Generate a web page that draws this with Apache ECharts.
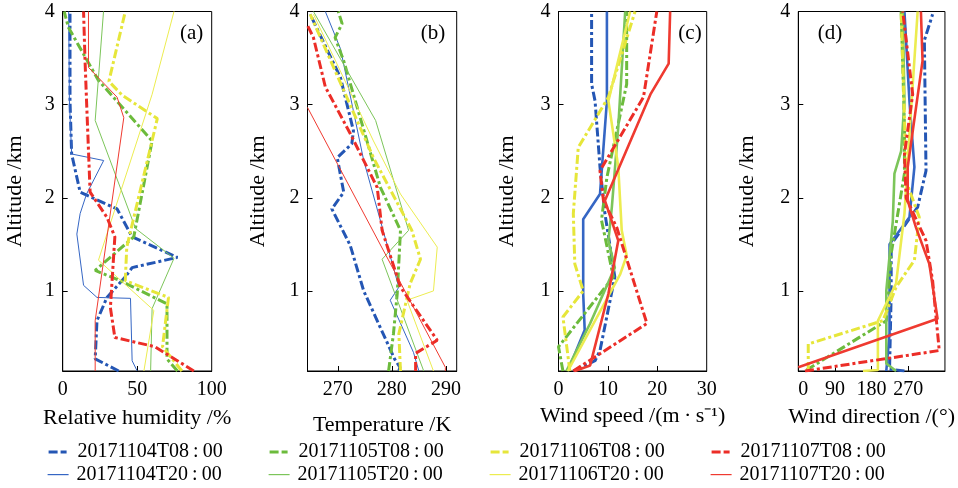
<!DOCTYPE html>
<html>
<head>
<meta charset="utf-8">
<script src="https://cdn.jsdelivr.net/npm/echarts@6/dist/echarts.min.js"></script>
<style>html,body{margin:0;padding:0;background:#fff}#c{width:958px;height:488px}</style>
</head>
<body>
<div id="c"></div>
<script>
// ---- DATA: [value, altitude km] ----
const dates = ['20171104', '20171105', '20171106', '20171107'];
const times = ['T08:00', 'T20:00'];
const altTicks = [1, 2, 3];
const altLabels = [1, 2, 3, 4];
const rhLabels = [0, 50, 100];
const tLabels = [270, 280, 290];
const wsLabels = [0, 10, 20, 30];
const wdLabels = [0, 90, 180, 270];

// (a) Relative humidity /%
const rh_1104_08 = [[37.6,0.14],[21.8,0.27],[23,0.68],[29.7,0.93],[42,1.15],[46.6,1.25],[77,1.36],[46.6,1.58],[36.5,1.88],[11.7,2.06],[6,2.47],[4.9,3.04],[4.9,4.0]];
const rh_1104_20 = [[50,0.14],[46.6,0.25],[45.5,0.92],[23,0.93],[14,1.06],[9.5,1.61],[11.7,1.83],[16,2.04],[27.5,2.40],[6,2.47],[4.5,3.04],[4,4.0]];
const rh_1105_08 = [[77,0.14],[70,0.27],[70,0.86],[38.7,1.11],[21.8,1.22],[47.7,1.58],[60,2.61],[24,3.26],[3.8,3.83],[1,4.0]];
const rh_1105_20 = [[59,0.14],[60,0.81],[74.7,1.35],[48.9,1.67],[21.8,2.83],[27.4,4.0]];
const rh_1106_08 = [[80,0.14],[67,0.40],[71,0.93],[42,1.11],[43,1.47],[63.5,2.85],[40,3.1],[31,3.25],[42,4.0]];
const rh_1106_20 = [[54.5,0.14],[61.2,0.79],[24,1.33],[60,3.11],[74.7,4.0]];
const rh_1107_08 = [[88,0.14],[62,0.40],[35,0.50],[32,0.82],[35,1.58],[29.7,1.79],[18.4,2.06],[16,3.04],[15,3.47],[14,4.0]];
const rh_1107_20 = [[21.8,0.14],[21.8,0.68],[41,2.86],[36.5,3.08],[17.3,3.40],[17.3,4.0]];

// (b) Temperature /K
const t_1104_08 = [[281.3,0.14],[281.5,0.18],[280.5,0.27],[274.8,1.0],[272.3,1.49],[268.9,1.88],[271.1,2.06],[269.9,2.43],[272.6,2.58],[272.9,2.72],[270.5,3.29],[264.9,3.97]];
const t_1104_20 = [[285,0.14],[284,0.34],[279.7,0.90],[281.3,1.04],[274.8,2.40],[270.5,3.60],[267.7,4.0]];
const t_1105_08 = [[279.4,0.14],[280.3,0.54],[281,0.97],[281.6,1.65],[277.9,2.11],[271.1,3.47],[269.5,3.72],[270.8,3.87],[270.1,4.0]];
const t_1105_20 = [[285.9,0.14],[278.2,1.34],[283.1,1.65],[277,2.83],[265.5,4.0]];
const t_1106_08 = [[281.6,0.14],[281.3,0.54],[283.4,1.08],[285.3,1.34],[283.7,1.65],[276.6,2.43],[264.9,3.97]];
const t_1106_20 = [[287.7,0.14],[282.8,0.90],[287.7,1.0],[288.4,1.47],[281.6,2.04],[276.6,2.61],[265.5,3.97]];
const t_1107_08 = [[284.4,0.14],[284.4,0.33],[288.4,0.47],[281.6,1.04],[278.2,1.65],[277.3,2.11],[272.3,2.69],[267.7,3.19],[265.5,3.72],[264.4,3.85]];
const t_1107_20 = [[289.9,0.14],[289.9,0.18],[264.4,2.97]];

// (c) Wind speed /(m s-1)
const ws_1104_08 = [[3.0,0.14],[7.4,0.25],[8.4,0.36],[11.4,1.15],[9.4,1.83],[8.4,2.33],[7.4,3.04],[6.7,3.22],[6.7,4.0]];
const ws_1104_20 = [[1.9,0.14],[5.3,0.58],[5.0,0.97],[5.0,1.77],[8.4,2.04],[9.8,3.04],[9.8,4.0]];
const ws_1105_08 = [[0.9,0.14],[0,0.40],[11.1,1.15],[8.7,1.76],[9.8,2.22],[13.8,3.22],[13.8,4.0]];
const ws_1105_20 = [[1.6,0.14],[6.4,0.65],[11.4,1.25],[10.1,1.54],[10.8,1.90],[12.1,2.76],[13.5,4.0]];
const ws_1106_08 = [[2.3,0.14],[0.9,0.72],[5.0,1.0],[3.3,1.29],[3.0,1.83],[4.0,2.54],[10.1,3.08],[15.5,4.0]];
const ws_1106_20 = [[1.9,0.14],[12.5,1.18],[13.8,1.38],[12.8,1.65],[12.1,2.33],[10.1,3.04],[14.5,4.0]];
const ws_1107_08 = [[3.0,0.14],[17.9,0.65],[11.8,1.68],[9.1,1.97],[8.4,2.29],[17.2,3.08],[19.9,4.0]];
const ws_1107_20 = [[3.3,0.14],[6.4,0.2],[10.1,0.97],[12.1,1.54],[9.4,1.97],[18.6,3.11],[22.3,3.44],[22.6,4.0]];

// (d) Wind direction /(deg)
const wd_1104_08 = [[260.6,0.14],[224,0.16],[228,0.97],[228,1.5],[293,1.90],[313.5,2.29],[309.5,3.69],[329.7,3.97]];
const wd_1104_20 = [[216,0.14],[224,0.54],[224,1.5],[272.8,1.79],[285,2.33],[272.8,3.04],[260.6,4.0]];
const wd_1105_08 = [[20.4,0.15],[216,0.68],[228,1.40],[260.6,2.26],[260.6,2.77],[252.5,4.0]];
const wd_1105_20 = [[240,0.14],[216,0.22],[216,1.0],[232,1.75],[236,2.26],[252.5,2.5],[260.6,3.04],[256.4,4.0]];
const wd_1106_08 = [[24.4,0.14],[24.4,0.43],[207.6,0.68],[240,1.04],[285,1.33],[297,1.79],[264.7,2.18],[260.6,2.86],[252.5,4.0]];
const wd_1106_20 = [[158.7,0.14],[195.4,0.15],[195.4,0.68],[240,1.08],[260.6,1.83],[272.8,2.69],[293,4.0]];
const wd_1107_08 = [[16.4,0.14],[346,0.36],[329.7,1.11],[313.5,1.54],[264.7,2.0],[260.6,2.47],[280.8,3.11],[256.4,4.0]];
const wd_1107_20 = [[0,0.18],[341.9,0.70],[321.6,1.29],[289,1.68],[268.6,1.97],[268.6,2.33],[305,3.47],[301,4.0]];

const panelData = [
  [rh_1104_08, rh_1104_20, rh_1105_08, rh_1105_20, rh_1106_08, rh_1106_20, rh_1107_08, rh_1107_20],
  [t_1104_08, t_1104_20, t_1105_08, t_1105_20, t_1106_08, t_1106_20, t_1107_08, t_1107_20],
  [ws_1104_08, ws_1104_20, ws_1105_08, ws_1105_20, ws_1106_08, ws_1106_20, ws_1107_08, ws_1107_20],
  [wd_1104_08, wd_1104_20, wd_1105_08, wd_1105_20, wd_1106_08, wd_1106_20, wd_1107_08, wd_1107_20]
];

// ---- STYLE / LAYOUT ----
const FONT = 'Liberation Serif';
const colors08 = ['#2456b4', '#6cbb3c', '#e6e63a', '#ec2d27'];
const colors20 = ['#3566c4', '#7cc55a', '#ecec50', '#ef3a30'];
const dashDot = [9, 3, 3, 3];

const grids = [
  {left: 62.7, top: 11.5, width: 149, height: 359.5},
  {left: 307.5, top: 11.5, width: 149.2, height: 359.5},
  {left: 558.5, top: 11.5, width: 148.2, height: 359.5},
  {left: 798.3, top: 11.5, width: 147.4, height: 359.5}
];
const xCfg = [
  {min: 0, max: 100, labels: rhLabels, ticks: [50], name: 'Relative humidity /%', gap: 36},
  {min: 264.4, max: 292, labels: tLabels, ticks: [270, 280, 290], name: 'Temperature /K', gap: 43},
  {min: 0, max: 30, labels: wsLabels, ticks: [10, 20], name: 'Wind speed /(m\u2009\u00b7\u2009s\u207b\u00b9)', gap: 29},
  {min: 0, max: 360, labels: wdLabels, ticks: [90, 180, 270], name: 'Wind direction /(\u00b0)', gap: 35}
];
const yGaps = [36, 38, 40, 40];
const thinW = [1, 1, 2.6, 2.6];
const panelTags = [
  {t: '(a)', x: 191.7, y: 33}, {t: '(b)', x: 433, y: 33},
  {t: '(c)', x: 690, y: 33}, {t: '(d)', x: 830, y: 33}
];

const nameStyle = {fontFamily: FONT, fontSize: 22, color: '#000'};

const legends = [];
dates.forEach((d, i) => {
  times.forEach((t, ti) => {
    const is08 = ti === 0;
    legends.push({
      left: 47 + i * 221, top: 442 + ti * 22.6,
      itemWidth: 21, itemHeight: 12, padding: 0,
      itemStyle: {opacity: 0, borderWidth: 0},
      data: [{
        name: d + t,
        lineStyle: {width: is08 ? 3.2 : 1.2, type: is08 ? [9, 3, 6, 3] : 'solid', color: is08 ? colors08[i] : colors20[i]}
      }],
      formatter: n => n.replace(':', '\u2009:\u2009'),
      textStyle: {fontFamily: FONT, fontSize: 20, color: '#000', padding: [0, 0, 0, 3]}
    });
  });
});

const option = {
  animation: false,
  backgroundColor: '#fff',
  grid: grids.map(g => Object.assign({show: true, borderColor: '#000', borderWidth: 1, backgroundColor: 'transparent'}, g)),
  xAxis: xCfg.map((c, i) => ({
    type: 'value', gridIndex: i, min: c.min, max: c.max,
    name: c.name, nameLocation: 'middle', nameGap: c.gap,
    nameTextStyle: nameStyle,
    axisLine: {show: true, onZero: false, lineStyle: {color: '#000', width: 1}},
    axisTick: {show: true, inside: true, length: 5, customValues: c.ticks, lineStyle: {color: '#000'}},
    axisLabel: {show: true, customValues: c.labels, margin: 9, fontFamily: FONT, fontSize: 20, color: '#000',
      alignMinLabel: i === 3 ? 'left' : 'center'},
    splitLine: {show: false}
  })),
  yAxis: grids.map((g, i) => ({
    type: 'value', gridIndex: i, min: 0.14, max: 4,
    name: 'Altitude /km', nameLocation: 'middle', nameGap: yGaps[i], nameRotate: 90,
    nameTextStyle: nameStyle,
    axisLine: {show: true, onZero: false, lineStyle: {color: '#000', width: 1}},
    axisTick: {show: true, inside: true, length: 5, customValues: altTicks, lineStyle: {color: '#000'}},
    axisLabel: {show: true, customValues: altLabels, margin: 8, fontFamily: FONT, fontSize: 20, color: '#000'},
    splitLine: {show: false}
  })),
  legend: legends,
  graphic: panelTags.map(p => ({
    type: 'text', x: p.x, y: p.y, z: 100,
    style: {text: p.t, fontFamily: FONT, fontSize: 21, fill: '#000', align: 'center', verticalAlign: 'middle'}
  })),
  series: []
};

panelData.forEach((arrs, p) => {
  arrs.forEach((arr, k) => {
    const di = Math.floor(k / 2), ti = k % 2;
    const is08 = ti === 0;
    option.series.push({
      type: 'line', name: dates[di] + times[ti],
      xAxisIndex: p, yAxisIndex: p,
      data: arr, symbol: 'none', showSymbol: false, clip: true,
      lineStyle: {
        color: is08 ? colors08[di] : colors20[di],
        width: is08 ? 3 : thinW[p],
        type: is08 ? dashDot : 'solid'
      },
      itemStyle: {color: is08 ? colors08[di] : colors20[di]},
      z: 2 + k
    });
  });
});

const chart = echarts.init(document.getElementById('c'), null, {renderer: 'canvas'});
chart.setOption(option);
</script>
</body>
</html>
